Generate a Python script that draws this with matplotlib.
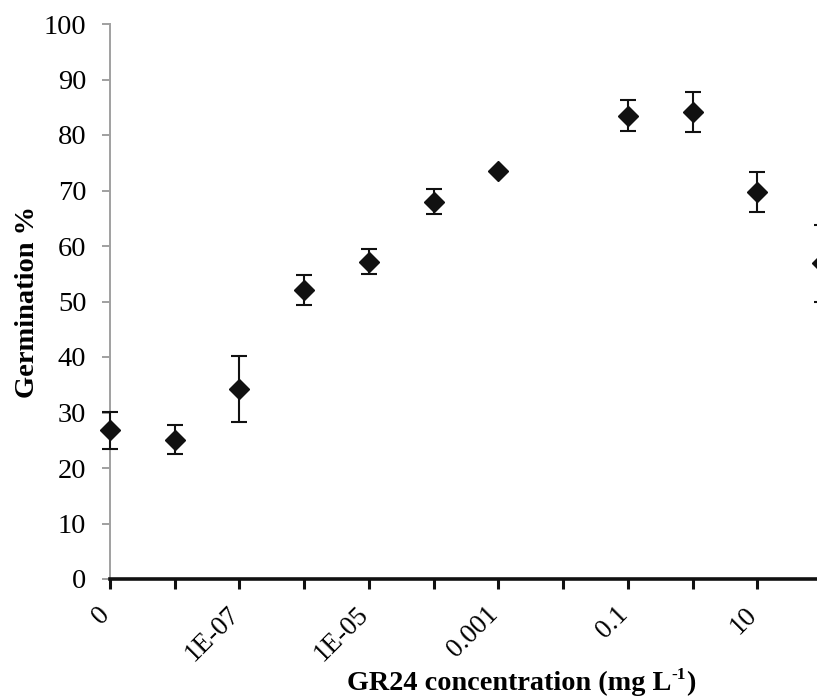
import matplotlib
matplotlib.use("Agg")
import matplotlib.pyplot as plt
import matplotlib.transforms as mtransforms
import numpy as np

# GR24 concentrations (mg L-1), one category per decade
concentrations = ['0', '1E-08', '1E-07', '1E-06', '1E-05', '0.0001',
                  '0.001', '0.01', '0.1', '1', '10', '100']
germination = [26.8, 25.1, 34.2, 52.1, 57.2, 68.0,
               73.6, np.nan, 83.5, 84.2, 69.7, 56.9]
germination_err = [3.3, 2.6, 5.9, 2.7, 2.3, 2.2,
                   0.0, np.nan, 2.8, 3.6, 3.6, 6.9]
labelled_every = 2

plt.rcParams['font.family'] = ['Liberation Serif', 'DejaVu Serif']

W, H = 817, 697
fig = plt.figure(figsize=(W / 100, H / 100), dpi=100)
# plot area: left edge at first category, right edge at last category
left_px, right_px = 110, 822
top_px, bottom_px = 24, 579
ax = fig.add_axes([left_px / W, (H - bottom_px) / H,
                   (right_px - left_px) / W, (bottom_px - top_px) / H])

x = np.arange(len(concentrations))
ax.errorbar(x, germination, yerr=germination_err, fmt='D', color='#111111',
            markersize=10, ecolor='#111111', elinewidth=1.5, capsize=5.5,
            capthick=1.5, clip_on=False, zorder=3)

ax.set_xlim(0, len(concentrations) - 1)
ax.set_ylim(0, 100)
ax.set_yticks(np.arange(0, 101, 10))

# category ticks on every decade, rotated labels on every other one
ax.set_xticks(x)
ax.set_xticklabels([])
offset = mtransforms.ScaledTranslation(5 / 100, -23 / 100, fig.dpi_scale_trans)
for i, c in enumerate(concentrations):
    if i % labelled_every == 0:
        ax.text(i, 0, c, transform=ax.get_xaxis_transform() + offset,
                rotation=45, ha='right', va='top', fontsize=19.5,
                clip_on=False)

ax.tick_params(axis='y', labelsize=20.5, length=6, width=1.4, color='#a0a0a0',
               pad=11, direction='out')
ax.tick_params(axis='x', length=7, width=2.2, color='#111111',
               direction='out')

for side in ('top', 'right'):
    ax.spines[side].set_visible(False)
ax.spines['left'].set_color('#a0a0a0')
ax.spines['left'].set_linewidth(1.4)
ax.spines['bottom'].set_color('#111111')
ax.spines['bottom'].set_linewidth(2.6)
ax.spines['bottom'].set_zorder(4)

# y-axis title
fig.text(28 / W, 1 - 302 / H, 'Germination %', rotation=90, ha='center',
         va='center', fontsize=20.5, fontweight='bold')

# x-axis title with a hyphen superscript, laid out piece by piece
renderer = fig.canvas.get_renderer()
pieces = [('GR24 concentration (mg L', 20.3, 0), ('-1', 12.5, 11), (')', 20.3, 0)]
widths = []
for txt, fs, _ in pieces:
    t = fig.text(0, 0, txt, fontsize=fs, fontweight='bold')
    widths.append(t.get_window_extent(renderer).width)
    t.remove()
cx, base = 521, 690
xpos = cx - sum(widths) / 2
for (txt, fs, rise), w in zip(pieces, widths):
    fig.text(xpos / W, 1 - (base - rise) / H, txt, fontsize=fs,
             fontweight='bold', ha='left', va='baseline')
    xpos += w

fig.savefig('out.png', dpi=100)
